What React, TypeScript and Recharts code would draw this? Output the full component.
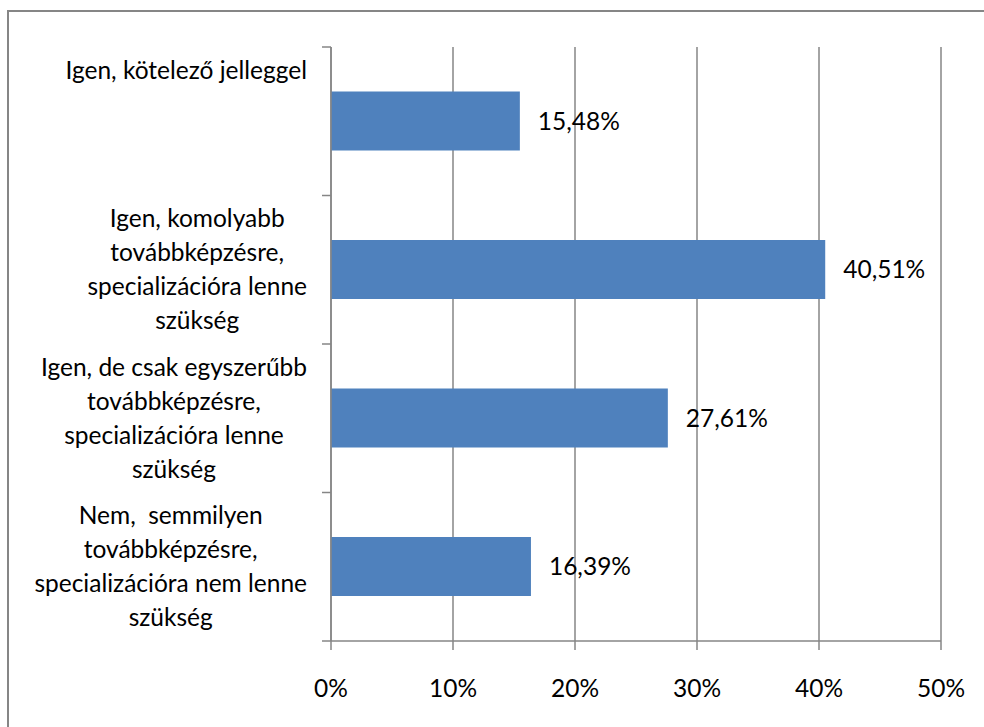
import React from 'react';
import { BarChart, Bar, XAxis, YAxis, CartesianGrid, LabelList } from 'recharts';

const categories: string[][] = [
  ['Igen, kötelező jelleggel', '', '', ''],
  ['Igen, komolyabb', 'továbbképzésre,', 'specializációra lenne', 'szükség'],
  ['Igen, de csak egyszerűbb', 'továbbképzésre,', 'specializációra lenne', 'szükség'],
  ['Nem,  semmilyen', 'továbbképzésre,', 'specializációra nem lenne', 'szükség'],
];
const values: number[] = [15.48, 40.51, 27.61, 16.39];
const xTicks: number[] = [0, 10, 20, 30, 40, 50];

const data = categories.map((lines, i) => ({ key: String(i), value: values[i] }));

const W = 984;
const H = 727;
const PLOT_LEFT = 331;
const PLOT_RIGHT = 941;
const PLOT_TOP = 47;
const PLOT_BOTTOM = 641;
const LABEL_RIGHT = 307;
const BAND = (PLOT_BOTTOM - PLOT_TOP) / categories.length;
const FONT = 'Lato, "Open Sans", sans-serif';
const FS = 24.5;
const GRID = '#868686';

let ctx: CanvasRenderingContext2D | null = null;
const measure = (t: string): number => {
  if (typeof document === 'undefined') return t.length * FS * 0.45;
  if (!ctx) {
    const c = document.createElement('canvas');
    ctx = c.getContext('2d');
  }
  if (!ctx) return t.length * FS * 0.45;
  ctx.font = `${FS}px Lato, "Open Sans", sans-serif`;
  return ctx.measureText(t).width;
};

const YTick = (props: any) => {
  const { y, payload } = props;
  const idx = payload.index;
  const lines = categories[idx] || [];
  const lh = 34;
  const startY = y - ((lines.length - 1) * lh) / 2;
  const top = y - BAND / 2;
  const maxW = Math.max(...lines.map(measure));
  const cx = LABEL_RIGHT - maxW / 2;
  return (
    <g>
      <line x1={PLOT_LEFT - 9} x2={PLOT_LEFT} y1={top} y2={top} stroke={GRID} strokeWidth={1.5} />
      {idx === categories.length - 1 && (
        <line x1={PLOT_LEFT - 9} x2={PLOT_LEFT} y1={top + BAND} y2={top + BAND} stroke={GRID} strokeWidth={1.5} />
      )}
      {lines.map((t, i) => (
        <text key={i} x={cx} y={startY + i * lh} dy="0.35em" textAnchor="middle" fontFamily={FONT} fontSize={FS} fill="#000" style={{ whiteSpace: 'pre' }}>
          {t}
        </text>
      ))}
    </g>
  );
};

const XTick = (props: any) => {
  const { x, payload } = props;
  return (
    <text x={x} y={688} dy="0.35em" textAnchor="middle" fontFamily={FONT} fontSize={FS} fill="#000">
      {`${payload.value}%`}
    </text>
  );
};

const fmt = (v: any) => `${Number(v).toFixed(2).replace('.', ',')}%`;

export default function App() {
  return (
    <div style={{ position: 'absolute', left: 0, top: 0, width: W, height: H, overflow: 'hidden', background: '#fff' }}>
      <div style={{ position: 'absolute', left: 7, top: 10, width: 1100, height: 900, border: `2px solid ${GRID}`, boxSizing: 'border-box' }} />
      <div style={{ position: 'absolute', left: 0, top: 0 }}>
        <BarChart
          width={W}
          height={H}
          data={data}
          layout="vertical"
          margin={{ top: PLOT_TOP, right: W - PLOT_RIGHT, bottom: 0, left: 0 }}
          barCategoryGap="30%"
        >
          <CartesianGrid horizontal={false} vertical={true} stroke={GRID} strokeWidth={1.5} />
          <XAxis
            type="number"
            domain={[0, 50]}
            ticks={xTicks}
            interval={0}
            height={H - PLOT_BOTTOM}
            axisLine={{ stroke: GRID, strokeWidth: 1.5 }}
            tickLine={{ stroke: GRID, strokeWidth: 1.5 }}
            tickSize={9}
            tick={<XTick />}
          />
          <YAxis
            type="category"
            dataKey="key"
            width={PLOT_LEFT}
            axisLine={{ stroke: GRID, strokeWidth: 1.5 }}
            tickLine={false}
            interval={0}
            tick={<YTick />}
          />
          <Bar dataKey="value" fill="#4F81BD" isAnimationActive={false}>
            <LabelList
              dataKey="value"
              position="right"
              offset={18}
              formatter={fmt}
              fontFamily={FONT}
              fontSize={FS}
              fill="#000"
            />
          </Bar>
        </BarChart>
      </div>
    </div>
  );
}
